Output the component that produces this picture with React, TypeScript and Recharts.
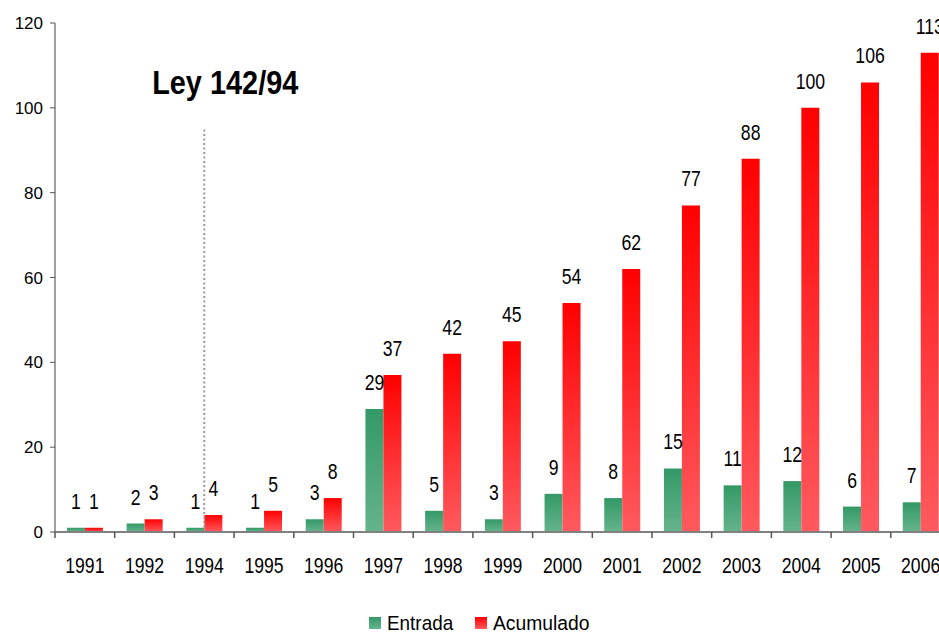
import { BarChart, Bar, XAxis, YAxis, LabelList, Legend, ReferenceLine, ReferenceDot } from 'recharts';

const years = ['1991', '1992', '1994', '1995', '1996', '1997', '1998', '1999', '2000', '2001', '2002', '2003', '2004', '2005', '2006'];
const entrada = [1, 2, 1, 1, 3, 29, 5, 3, 9, 8, 15, 11, 12, 6, 7];
const acumulado = [1, 3, 4, 5, 8, 37, 42, 45, 54, 62, 77, 88, 100, 106, 113];
const yTicks = [0, 20, 40, 60, 80, 100, 120];

const data = years.map((year, i) => ({ year, entrada: entrada[i], acumulado: acumulado[i] }));

const FONT = '"Liberation Sans", Arial, sans-serif';
const HALF_BAND = 895.5 / years.length / 2;

// the source chart uses tall, condensed lettering; squeeze the text horizontally
function NarrowText({ x, y, size, sx, anchor = 'middle', bold = false, children }: any) {
  return (
    <text
      transform={`translate(${x},${y}) scale(${sx},1)`}
      textAnchor={anchor}
      fontSize={size}
      fontWeight={bold ? 'bold' : 'normal'}
      fontFamily={FONT}
      fill="#000"
    >
      {children}
    </text>
  );
}

function YearTick(props: any) {
  const { x, y, payload } = props;
  return (
    <g>
      <line x1={x - HALF_BAND} x2={x - HALF_BAND} y1={y - 6} y2={y} stroke="#555" strokeWidth={1.5} />
      <NarrowText x={x} y={y + 35} size={22} sx={0.8}>{payload.value}</NarrowText>
    </g>
  );
}

function BarLabel(props: any) {
  const { x, y, width, value } = props;
  return <NarrowText x={x + width / 2} y={y - 19} size={21.5} sx={0.82}>{value}</NarrowText>;
}

function Title(props: any) {
  const { cx, cy } = props;
  return <NarrowText x={cx + 21} y={cy - 13.5} size={34} sx={0.85} bold>Ley 142/94</NarrowText>;
}

function LegendBox() {
  return (
    <svg width={960} height={24} style={{ display: 'block' }}>
      <defs>
        <linearGradient id="lgEntrada" x1="0" y1="0" x2="0" y2="1">
          <stop offset="0%" stopColor="#339966" />
          <stop offset="100%" stopColor="#66b38c" />
        </linearGradient>
        <linearGradient id="lgAcum" x1="0" y1="0" x2="0" y2="1">
          <stop offset="0%" stopColor="#ff0000" />
          <stop offset="100%" stopColor="#ff5a5f" />
        </linearGradient>
      </defs>
      <rect x={369} y={8} width={12} height={12} fill="url(#lgEntrada)" />
      <NarrowText x={387} y={21} size={21} sx={0.9} anchor="start">Entrada</NarrowText>
      <rect x={475} y={8} width={12} height={12} fill="url(#lgAcum)" />
      <NarrowText x={493} y={21} size={21} sx={0.92} anchor="start">Acumulado</NarrowText>
    </svg>
  );
}

export default function App() {
  return (
    <div style={{ position: 'fixed', left: 0, top: 0, width: 939, height: 633, overflow: 'hidden', background: '#fff' }}>
      <BarChart
        width={960}
        height={633}
        data={data}
        margin={{ top: 23, right: 9.5, bottom: 6, left: 0 }}
        barCategoryGap="20%"
        barGap={0}
      >
        <defs>
          <linearGradient id="gEntrada" x1="0" y1="0" x2="0" y2="1">
            <stop offset="0%" stopColor="#339966" />
            <stop offset="100%" stopColor="#66b38c" />
          </linearGradient>
          <linearGradient id="gAcum" x1="0" y1="0" x2="0" y2="1">
            <stop offset="0%" stopColor="#ff0000" />
            <stop offset="100%" stopColor="#ff5a5f" />
          </linearGradient>
        </defs>
        <XAxis
          dataKey="year"
          height={71}
          tickLine={false}
          tickSize={6}
          tickMargin={0}
          tick={<YearTick />}
          interval={0}
          axisLine={{ stroke: '#808080', strokeWidth: 2 }}
        />
        <YAxis
          width={55}
          domain={[0, 120]}
          ticks={yTicks}
          tickSize={5}
          tickMargin={7}
          tick={{ fontSize: 17, fontFamily: FONT, fill: '#000' }}
          tickLine={{ stroke: '#555' }}
          axisLine={{ stroke: '#808080', strokeWidth: 1.5 }}
        />
        <ReferenceLine
          segment={[{ x: '1994', y: 0 }, { x: '1994', y: 95.3 }]}
          stroke="#999"
          strokeWidth={2}
          strokeDasharray="2 2.5"
        />
        <ReferenceDot x="1994" y={100} r={1} shape={<Title />} />
        <Bar dataKey="entrada" name="Entrada" fill="url(#gEntrada)" isAnimationActive={false}>
          <LabelList dataKey="entrada" content={<BarLabel />} />
        </Bar>
        <Bar dataKey="acumulado" name="Acumulado" fill="url(#gAcum)" isAnimationActive={false}>
          <LabelList dataKey="acumulado" content={<BarLabel />} />
        </Bar>
        <Legend content={<LegendBox />} wrapperStyle={{ left: 0, top: 609, width: 960 }} />
      </BarChart>
    </div>
  );
}
